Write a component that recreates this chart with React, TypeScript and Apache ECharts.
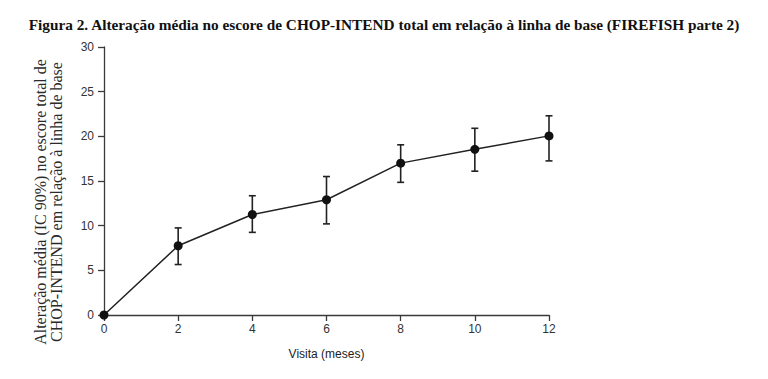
import React, { useEffect, useRef } from "react";
import * as echarts from "echarts";

const visits = [0, 2, 4, 6, 8, 10, 12];
const means = [0, 7.75, 11.25, 12.9, 17.0, 18.55, 20.05];
const lower = [0, 5.65, 9.25, 10.2, 14.85, 16.1, 17.25];
const upper = [0, 9.75, 13.35, 15.5, 19.05, 20.9, 22.3];
const yTicks = [0, 5, 10, 15, 20, 25, 30];
const xTicks = [0, 2, 4, 6, 8, 10, 12];
const titleText =
  "Figura 2. Alteração média no escore de CHOP-INTEND total em relação à linha de base (FIREFISH parte 2)";
const yName = "Alteração média (IC 90%) no escore total de\nCHOP-INTEND em relação à linha de base";
const xName = "Visita (meses)";

export default function App() {
  const ref = useRef<HTMLDivElement>(null);
  useEffect(() => {
    if (!ref.current) return;
    const chart = echarts.init(ref.current, null, { renderer: "svg" });
    const axisColor = "#3a3a3a";
    chart.setOption({
      animation: false,
      backgroundColor: "#ffffff",
      title: {
        text: titleText,
        left: "center",
        top: 12,
        textStyle: {
          fontFamily: "Liberation Serif",
          fontWeight: "bold",
          fontSize: 15.3,
          color: "#111",
        },
      },
      graphic: [
        {
          type: "text",
          x: 48,
          y: 202,
          rotation: Math.PI / 2,
          style: {
            text: yName,
            fontFamily: "Liberation Serif",
            fontSize: 16,
            lineHeight: 16,
            fill: "#2a2a2a",
            align: "center",
            verticalAlign: "middle",
          },
        },
      ],
      grid: { left: 104, right: 219, top: 47, bottom: 64, containLabel: false },
      xAxis: {
        type: "value",
        min: 0,
        max: 12,
        interval: 2,
        name: xName,
        nameLocation: "middle",
        nameGap: 33,
        nameTextStyle: { fontFamily: "Liberation Sans", fontSize: 12, color: "#222" },
        axisLine: { onZero: false, lineStyle: { color: axisColor, width: 1.3 } },
        axisTick: { show: true, length: 6, lineStyle: { color: axisColor, width: 1.3 } },
        axisLabel: {
          fontFamily: "Liberation Sans",
          fontSize: 12,
          color: "#333",
          margin: 8,
          formatter: (v: number) => (xTicks.includes(v) ? String(v) : ""),
        },
        splitLine: { show: false },
      },
      yAxis: {
        type: "value",
        min: 0,
        max: 30,
        interval: 5,
        axisLine: { show: true, lineStyle: { color: axisColor, width: 1.3 } },
        axisTick: { show: true, length: 6, lineStyle: { color: axisColor, width: 1.3 } },
        axisLabel: {
          fontFamily: "Liberation Sans",
          fontSize: 12,
          color: "#333",
          margin: 10,
          formatter: (v: number) => (yTicks.includes(v) ? String(v) : ""),
        },
        splitLine: { show: false },
      },
      series: [
        {
          type: "custom",
          z: 1,
          data: visits.map((v, i) => [v, lower[i], upper[i]]),
          renderItem: (params: any, api: any) => {
            const x = api.value(0);
            const lo = api.coord([x, api.value(1)]);
            const hi = api.coord([x, api.value(2)]);
            if (api.value(1) === api.value(2)) return { type: "group", children: [] };
            const cap = 3.5;
            const style = { stroke: "#222", lineWidth: 1.6, fill: "none" };
            return {
              type: "group",
              children: [
                { type: "line", shape: { x1: lo[0], y1: lo[1], x2: hi[0], y2: hi[1] }, style },
                { type: "line", shape: { x1: lo[0] - cap, y1: lo[1], x2: lo[0] + cap, y2: lo[1] }, style },
                { type: "line", shape: { x1: hi[0] - cap, y1: hi[1], x2: hi[0] + cap, y2: hi[1] }, style },
              ],
            };
          },
        },
        {
          type: "line",
          z: 2,
          data: visits.map((v, i) => [v, means[i]]),
          symbol: "circle",
          symbolSize: 9,
          itemStyle: { color: "#111" },
          lineStyle: { color: "#222", width: 1.5 },
        },
      ],
    });
    return () => chart.dispose();
  }, []);
  return <div ref={ref} style={{ width: 768, height: 379, position: "absolute", left: 0, top: 0 }} />;
}
